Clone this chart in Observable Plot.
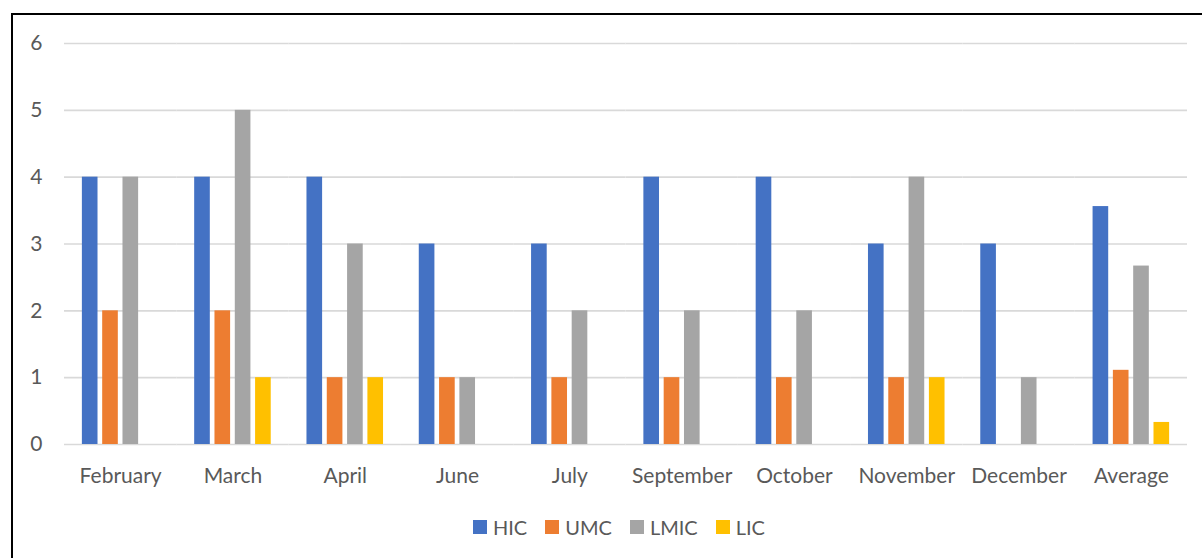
<!DOCTYPE html>
<html>
<head>
<meta charset="utf-8">
<script src="https://cdn.jsdelivr.net/npm/d3@7"></script>
<script src="https://cdn.jsdelivr.net/npm/@observablehq/plot@0.6"></script>
<style>
  html, body { margin: 0; padding: 0; background: #fff; overflow: hidden; }
  #wrap { position: relative; width: 1202px; height: 558px; }
  #chart { position: absolute; left: 0; top: 0; }
  #border { position: absolute; left: 11px; top: 13px; width: 1200px; height: 600px; border: 2px solid #000; box-sizing: border-box; pointer-events: none; z-index: 2; }
  #legend { position: absolute; top: 515px; left: 473px; display: flex; align-items: center; font-family: Lato, "Open Sans", sans-serif; font-size: 20px; color: #595959; z-index: 1; }
  #legend .item { display: flex; align-items: center; margin-right: 18px; }
  #legend .sw { width: 14px; height: 14px; margin-right: 6px; }
</style>
</head>
<body>
<div id="wrap">
  <div id="chart"></div>
  <div id="legend"></div>
  <div id="border"></div>
</div>
<script>
const categories = ["February", "March", "April", "June", "July", "September", "October", "November", "December", "Average"];
const series = ["HIC", "UMC", "LMIC", "LIC"];
const colors = ["#4472C4", "#ED7D31", "#A5A5A5", "#FFC000"];
const HIC  = [4, 4, 4, 3, 3, 4, 4, 3, 3, 3.56];
const UMC  = [2, 2, 1, 1, 1, 1, 1, 1, 0, 1.11];
const LMIC = [4, 5, 3, 1, 2, 2, 2, 4, 1, 2.67];
const LIC  = [0, 1, 1, 0, 0, 0, 0, 1, 0, 0.33];
const yTicks = [0, 1, 2, 3, 4, 5, 6];

const valuesBySeries = {HIC, UMC, LMIC, LIC};
const table = [];
categories.forEach((c, i) => {
  series.forEach(s => table.push({month: c, series: s, value: valuesBySeries[s][i]}));
});

const plot = Plot.plot({
  width: 1202,
  height: 500,
  marginLeft: 64,
  marginRight: 15,
  marginTop: 43,
  marginBottom: 56,
  style: {fontFamily: "Lato, 'Open Sans', sans-serif", fontSize: "21px", color: "#595959", background: "transparent"},
  fx: {domain: categories, padding: 0, round: false, label: null, axis: "bottom", tickSize: 0, tickPadding: 24},
  x: {domain: series, paddingInner: 0.23, paddingOuter: 0.88, round: false, axis: null},
  y: {domain: [0, 6], ticks: yTicks, tickSize: 0, tickPadding: 22, label: null, tickFormat: d3.format("d")},
  color: {domain: series, range: colors},
  marks: [
    Plot.ruleY(yTicks, {stroke: "#d9d9d9", strokeWidth: 1.6}),
    Plot.barY(table, {fx: "month", x: "series", y: "value", fill: "series"})
  ]
});
document.getElementById("chart").appendChild(plot);

const legend = document.getElementById("legend");
series.forEach((s, i) => {
  const item = document.createElement("div");
  item.className = "item";
  const sw = document.createElement("div");
  sw.className = "sw";
  sw.style.background = colors[i];
  const t = document.createElement("span");
  t.textContent = s;
  item.appendChild(sw);
  item.appendChild(t);
  legend.appendChild(item);
});
</script>
</body>
</html>
